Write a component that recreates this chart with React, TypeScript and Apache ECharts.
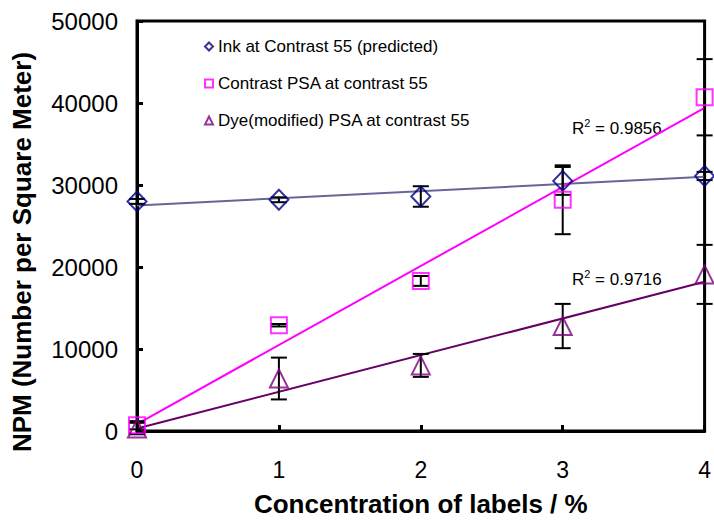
import React, { useEffect, useRef } from "react";
import * as echarts from "echarts";

const conc = [0, 1, 2, 3, 4];
const inkValues = [28000, 28200, 28600, 30500, 31100];
const inkErrors = [300, 300, 1250, 1700, 500];
const psaValues = [700, 12900, 18300, 28200, 40700];
const psaErrors = [500, 150, 600, 4200, 4650];
const dyeValues = [300, 6400, 8000, 12800, 19100];
const dyeErrors = [700, 2550, 1400, 2700, 3600];
const trendX = [0, 4];
const inkTrend = [27500, 31000];
const psaTrend = [850, 39400];
const dyeTrend = [300, 18200];
const yTicks = [0, 10000, 20000, 30000, 40000, 50000];
const xTicks = [0, 1, 2, 3, 4];
const seriesNames = [
  "Ink at Contrast 55 (predicted)",
  "Contrast PSA at contrast 55",
  "Dye(modified) PSA at contrast 55",
];
const r2Labels = ["0.9856", "0.9716"];
const xTitle = "Concentration of labels / %";
const yTitle = "NPM (Number per Square Meter)";

const FONT = "Liberation Sans, Arial, sans-serif";
const INK = "#000080";
const INK_LINE = "#666699";
const PSA = "#FF00FF";
const DYE = "#800080";
const DYE_LINE = "#660066";

function errData(vals: number[], errs: number[]) {
  return conc.map((x, i) => [x, vals[i], errs[i]]);
}

function pts(vals: number[]) {
  return conc.map((x, i) => [x, vals[i]]);
}

function trend(vals: number[]) {
  return trendX.map((x, i) => [x, vals[i]]);
}

const errorRender = (params: any, api: any) => {
  const x = api.value(0);
  const y = api.value(1);
  const e = api.value(2);
  const top = api.coord([x, y + e]);
  const bot = api.coord([x, y - e]);
  const hw = 8;
  const style = { stroke: "#000", lineWidth: 2 };
  return {
    type: "group",
    children: [
      { type: "line", shape: { x1: top[0], y1: top[1], x2: bot[0], y2: bot[1] }, style },
      { type: "line", shape: { x1: top[0] - hw, y1: top[1], x2: top[0] + hw, y2: top[1] }, style },
      { type: "line", shape: { x1: bot[0] - hw, y1: bot[1], x2: bot[0] + hw, y2: bot[1] }, style },
    ],
  };
};

const r2Rich = {
  t: { fontFamily: FONT, fontSize: 17, color: "#000", verticalAlign: "bottom" },
  s: { fontFamily: FONT, fontSize: 11, color: "#000", verticalAlign: "top", padding: [0, 0, 9, 0] },
};

export default function App() {
  const ref = useRef<HTMLDivElement>(null);
  useEffect(() => {
    if (!ref.current) return;
    const chart = echarts.init(ref.current, null, { renderer: "svg" });
    const hollow = "rgba(0,0,0,0)";
    chart.setOption({
      animation: false,
      backgroundColor: "#fff",
      grid: {
        left: 137,
        right: 5,
        top: 21,
        bottom: 88,
        show: true,
        borderColor: "#000",
        borderWidth: 3,
      },
      legend: {
        orient: "vertical",
        left: 199,
        top: 33,
        itemWidth: 8,
        itemHeight: 8,
        itemGap: 20,
        textStyle: { fontFamily: FONT, fontSize: 17, color: "#000" },
        data: [
          { name: seriesNames[0], icon: "diamond", itemStyle: { color: hollow, borderColor: INK, borderWidth: 2 } },
          { name: seriesNames[1], icon: "rect", itemStyle: { color: hollow, borderColor: PSA, borderWidth: 2 } },
          { name: seriesNames[2], icon: "triangle", itemStyle: { color: hollow, borderColor: DYE, borderWidth: 2 } },
        ],
      },
      xAxis: {
        type: "value",
        min: xTicks[0],
        max: xTicks[xTicks.length - 1],
        interval: 1,
        name: xTitle,
        nameLocation: "middle",
        nameGap: 60,
        nameTextStyle: { fontFamily: FONT, fontSize: 26, fontWeight: "bold", color: "#000" },
        axisLine: { lineStyle: { color: "#000", width: 3 } },
        axisTick: { inside: true, length: 6, lineStyle: { color: "#000", width: 3 } },
        axisLabel: { fontFamily: FONT, fontSize: 23, color: "#000", margin: 27 },
        splitLine: { show: false },
      },
      yAxis: {
        type: "value",
        min: yTicks[0],
        max: yTicks[yTicks.length - 1],
        interval: 10000,
        axisLine: { show: true, lineStyle: { color: "#000", width: 3 } },
        axisTick: { show: true, inside: true, length: 6, lineStyle: { color: "#000", width: 3 } },
        axisLabel: {
          fontFamily: FONT,
          fontSize: 24,
          color: "#000",
          margin: 19,
          formatter: (v: number) => String(v),
        },
        splitLine: { show: false },
      },
      series: [
        {
          type: "line",
          data: trend(inkTrend),
          symbol: "none",
          lineStyle: { color: INK_LINE, width: 2 },
          z: 2,
          silent: true,
        },
        {
          type: "line",
          data: trend(psaTrend),
          symbol: "none",
          lineStyle: { color: PSA, width: 2 },
          z: 2,
          silent: true,
        },
        {
          type: "line",
          data: trend(dyeTrend),
          symbol: "none",
          lineStyle: { color: DYE_LINE, width: 2 },
          z: 2,
          silent: true,
        },
        { type: "custom", renderItem: errorRender, data: errData(inkValues, inkErrors), z: 3 },
        { type: "custom", renderItem: errorRender, data: errData(psaValues, psaErrors), z: 3 },
        { type: "custom", renderItem: errorRender, data: errData(dyeValues, dyeErrors), z: 3 },
        {
          name: seriesNames[0],
          type: "scatter",
          data: pts(inkValues),
          symbol: "diamond",
          symbolSize: [19, 20],
          itemStyle: { color: hollow, borderColor: INK, borderWidth: 2 },
          z: 4,
        },
        {
          name: seriesNames[1],
          type: "scatter",
          data: pts(psaValues),
          symbol: "rect",
          symbolSize: 16,
          itemStyle: { color: hollow, borderColor: PSA, borderWidth: 2 },
          z: 4,
        },
        {
          name: seriesNames[2],
          type: "scatter",
          data: pts(dyeValues),
          symbol: "triangle",
          symbolSize: [18, 18],
          itemStyle: { color: hollow, borderColor: DYE, borderWidth: 2 },
          z: 4,
        },
      ],
      graphic: [
        {
          type: "text",
          left: 572,
          top: 117,
          style: { text: "{t|R}{s|2}{t| = " + r2Labels[0] + "}", rich: r2Rich },
        },
        {
          type: "text",
          left: 572,
          top: 268,
          style: { text: "{t|R}{s|2}{t| = " + r2Labels[1] + "}", rich: r2Rich },
        },
        {
          type: "text",
          x: 22,
          y: 252,
          rotation: Math.PI / 2,
          style: {
            text: yTitle,
            fontFamily: FONT,
            fontSize: 26,
            fontWeight: "bold",
            fill: "#000",
            align: "center",
            verticalAlign: "middle",
          },
        },
      ],
    });
    return () => chart.dispose();
  }, []);
  return <div ref={ref} style={{ width: 714, height: 522, position: "absolute", left: 0, top: 0 }} />;
}
